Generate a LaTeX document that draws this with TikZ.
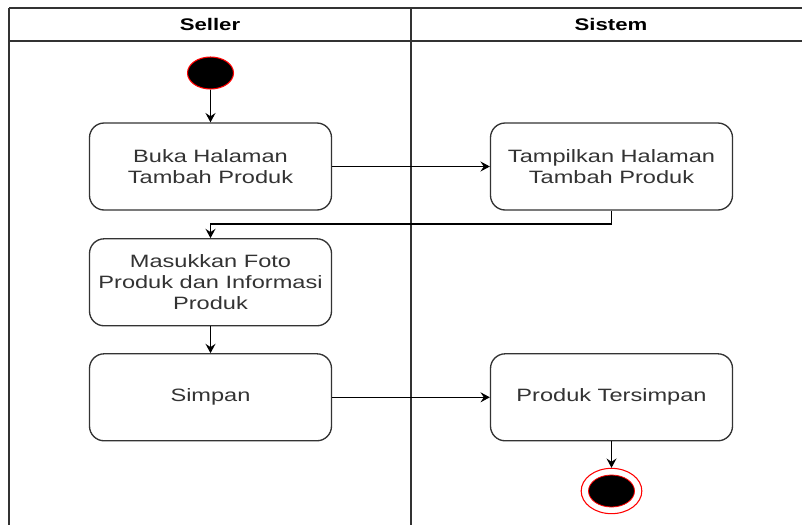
\documentclass[tikz,border=0pt]{standalone}
\usepackage{fontspec}
\setmainfont{Liberation Sans}[FakeStretch=1.32]
\usepackage{xcolor}
\usetikzlibrary{calc, shapes.geometric, arrows.meta}

\definecolor{lanegray}{HTML}{333333}
\definecolor{textgray}{HTML}{333333}

\tikzset{
  actbox/.style = {draw=lanegray, line width=1pt, rounded corners=11pt, fill=white,
    minimum width=181.5pt, minimum height=65.25pt, inner sep=2pt, align=center,
    text=textgray, font=\fontsize{13.4}{15.75}\selectfont},
  flow/.style = {draw=black, line width=0.8pt, -{Stealth[length=7pt, width=7.5pt, inset=2.5pt]}},
  lanehead/.style = {font=\fontsize{12.6}{14}\selectfont\bfseries, text=black}
}

\begin{document}
\begin{tikzpicture}[x=0.75pt, y=-0.75pt]

  \useasboundingbox (0,0) rectangle (802,525);

  % Draw swimlanes
  \draw[lanegray, line width=1pt] (9,8) -- (802,8);
  \draw[lanegray, line width=1pt] (9,41) -- (802,41);
  \draw[lanegray, line width=1pt] (9,8) -- (9,525);
  \draw[lanegray, line width=1pt] (411,8) -- (411,525);

  % Label the lanes
  \node[lanehead] (seller) at (210,24) {Seller};
  \node[lanehead] (sistem) at (611,24) {Sistem};

  % Start and end
  \node[ellipse, fill=black, draw=red, line width=0.8pt, minimum width=34.5pt,
    minimum height=24pt, inner sep=0pt] (start) at (210.5,73) {};
  \node[ellipse, fill=white, draw=red, line width=0.8pt, minimum width=45.5pt,
    minimum height=34pt, inner sep=0pt] (stop) at (611.5,491) {};
  \node[ellipse, fill=black, draw=red, line width=0.6pt, minimum width=34.5pt,
    minimum height=24pt, inner sep=0pt] (stopin) at (611.5,491) {};

  % Activities
  \node[actbox] (buka) at (210.5,166.5) {Buka Halaman\\Tambah Produk};
  \node[actbox] (tampil) at (611.5,166.5) {Tampilkan Halaman\\Tambah Produk};
  \node[actbox] (masuk) at (210.5,282.3) {Masukkan Foto\\Produk dan Informasi\\Produk};
  \node[actbox] (simpan) at (210.5,397.3) {Simpan};
  \node[actbox] (tersimpan) at (611.5,397.3) {Produk Tersimpan};

  % Connectors
  \draw[flow] (start) -- (buka);
  \draw[flow] (buka) -- (tampil);
  \draw[flow] (tampil.south) |- (210.5,224) -- (masuk.north);
  \draw[flow] (masuk) -- (simpan);
  \draw[flow] (simpan) -- (tersimpan);
  \draw[flow] (tersimpan) -- (stop);

\end{tikzpicture}
\end{document}
